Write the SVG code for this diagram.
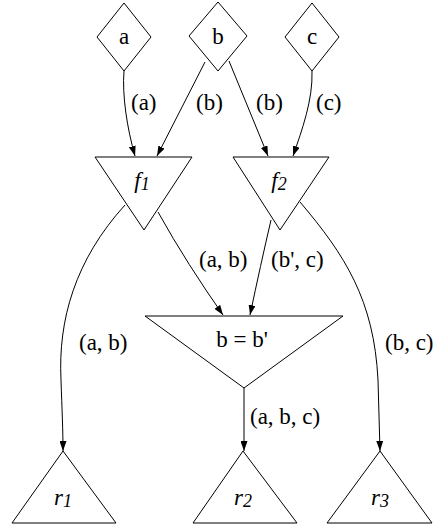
<svg xmlns="http://www.w3.org/2000/svg" width="433" height="524" viewBox="0 0 433 524">
<defs>
<marker id="arr" viewBox="0 0 10 7" refX="10" refY="3.5" markerWidth="10" markerHeight="7" markerUnits="userSpaceOnUse" orient="auto">
<path d="M0,0 L10,3.5 L0,7 Z" fill="#000"/>
</marker>
</defs>
<rect width="433" height="524" fill="#fff"/>
<g id="edges" fill="none" stroke="#000" stroke-width="1">
<path marker-end="url(#arr)" d="M124,71 C122,95 127,128 135,156"/>
<path marker-end="url(#arr)" d="M205,62 L157,156"/>
<path marker-end="url(#arr)" d="M229,61 L268,156"/>
<path marker-end="url(#arr)" d="M312,71 C313,100 302,130 293,156"/>
<path marker-end="url(#arr)" d="M125,205 C75,260 58,320 61,380 C62,410 63,430 63,451"/>
<path marker-end="url(#arr)" d="M158,212 C178,248 200,282 223,315"/>
<path marker-end="url(#arr)" d="M271,220 C264,250 257,282 250,315"/>
<path marker-end="url(#arr)" d="M300,202 C345,255 374,300 378,380 L380,451"/>
<path marker-end="url(#arr)" d="M244,388 L244,451"/>
</g>
<g id="edge-labels">
<text x="131" y="110" font-family="Liberation Serif" font-size="23">(a)</text>
<text x="196" y="110" font-family="Liberation Serif" font-size="23">(b)</text>
<text x="256" y="110" font-family="Liberation Serif" font-size="23">(b)</text>
<text x="316" y="110" font-family="Liberation Serif" font-size="23">(c)</text>
<text x="199" y="267" font-family="Liberation Serif" font-size="23">(a, b)</text>
<text x="271" y="267" font-family="Liberation Serif" font-size="23">(b', c)</text>
<text x="79" y="350" font-family="Liberation Serif" font-size="23">(a, b)</text>
<text x="385" y="350" font-family="Liberation Serif" font-size="23">(b, c)</text>
<text x="250" y="424" font-family="Liberation Serif" font-size="23">(a, b, c)</text>
</g>
<g id="a"><polygon fill="none" stroke="#000" points="124,3 151,37 124,71 97,37"/><text x="124" y="44" text-anchor="middle" font-family="Liberation Serif" font-size="23">a</text></g>
<g id="b"><polygon fill="none" stroke="#000" points="218,2 247,36 218,71 189,36"/><text x="218" y="44" text-anchor="middle" font-family="Liberation Serif" font-size="23">b</text></g>
<g id="c"><polygon fill="none" stroke="#000" points="312,3 339,37 312,71 285,37"/><text x="312" y="44" text-anchor="middle" font-family="Liberation Serif" font-size="23">c</text></g>
<g id="f1"><polygon fill="none" stroke="#000" points="95,157 192,157 144,230"/><text x="142" y="188" text-anchor="middle" font-family="Liberation Serif" font-size="23" font-style="italic">f<tspan font-size="18" dy="2">1</tspan></text></g>
<g id="f2"><polygon fill="none" stroke="#000" points="233,157 329,157 280,230"/><text x="279" y="188" text-anchor="middle" font-family="Liberation Serif" font-size="23" font-style="italic">f<tspan font-size="18" dy="2">2</tspan></text></g>
<g id="merge"><polygon fill="none" stroke="#000" points="145,316 343,316 244,388"/><text x="242" y="347" text-anchor="middle" font-family="Liberation Serif" font-size="23">b = b'</text></g>
<g id="r1"><polygon fill="none" stroke="#000" points="63,451 116,523 12,523"/><text x="63" y="505" text-anchor="middle" font-family="Liberation Serif" font-size="23" font-style="italic">r<tspan font-size="18" dy="2">1</tspan></text></g>
<g id="r2"><polygon fill="none" stroke="#000" points="243,451 297,523 193,523"/><text x="243" y="505" text-anchor="middle" font-family="Liberation Serif" font-size="23" font-style="italic">r<tspan font-size="18" dy="2">2</tspan></text></g>
<g id="r3"><polygon fill="none" stroke="#000" points="380,451 432,523 327,523"/><text x="380" y="505" text-anchor="middle" font-family="Liberation Serif" font-size="23" font-style="italic">r<tspan font-size="18" dy="2">3</tspan></text></g>
</svg>
